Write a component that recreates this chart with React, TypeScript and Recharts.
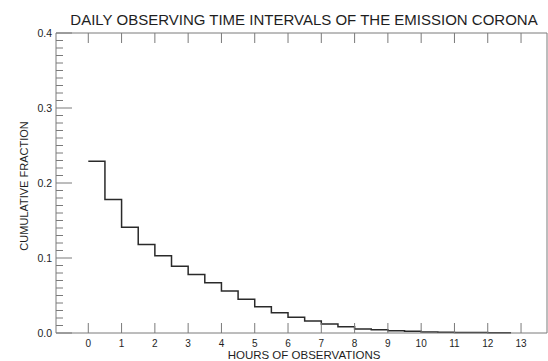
import React from "react";
import { LineChart, Line, XAxis, YAxis } from "recharts";

// hours of observation (start of each half-hour bin) and cumulative fraction
const hours = [0, 0.5, 1, 1.5, 2, 2.5, 3, 3.5, 4, 4.5, 5, 5.5, 6, 6.5, 7, 7.5, 8, 8.5, 9, 9.5, 10, 10.5, 11, 11.5, 12, 12.5, 12.7];
const fraction = [
  0.229, 0.178, 0.141, 0.118, 0.103, 0.089, 0.078, 0.067, 0.056, 0.045, 0.035, 0.027, 0.021, 0.016,
  0.012, 0.0085, 0.0055, 0.0042, 0.003, 0.0022, 0.0015, 0.0011, 0.0008, 0.0006, 0.0004, 0.0002, 0.0002,
];

const xTicks = [0, 1, 2, 3, 4, 5, 6, 7, 8, 9, 10, 11, 12, 13];
const yMajorTicks = [0, 0.1, 0.2, 0.3, 0.4];
const yTickLabels = ["0.0", "0.1", "0.2", "0.3", "0.4"];
const yMinorTicks = Array.from({ length: 41 }, (_, i) => i / 100);

const title = "DAILY OBSERVING TIME INTERVALS OF THE EMISSION CORONA";
const xLabel = "HOURS OF OBSERVATIONS";
const yLabel = "CUMULATIVE FRACTION";

const data = hours.map((h, i) => ({ h, v: fraction[i] }));

const FONT = "'Liberation Sans', Arial, sans-serif";
const TEXT = "#1e1e1e";
const AXIS = "#7a7a7a";
const X_DOMAIN = [-0.97, 13.78];

const isMajor = (v: number) => yMajorTicks.some((m) => Math.abs(m - v) < 1e-6);

function BottomTick(props: any) {
  const { x, y, payload } = props;
  return (
    <g>
      <line x1={x} y1={y} x2={x} y2={y - 10} stroke={AXIS} strokeWidth={1} />
      <text x={x} y={347} textAnchor="middle" fontSize={10} fontFamily={FONT} fill={TEXT}>
        {payload.value}
      </text>
    </g>
  );
}

function TopTick(props: any) {
  const { x, y } = props;
  return <line x1={x} y1={y} x2={x} y2={y + 10} stroke={AXIS} strokeWidth={1} />;
}

function LeftTick(props: any) {
  const { x, y, payload } = props;
  const major = isMajor(payload.value);
  const idx = yMajorTicks.findIndex((m) => Math.abs(m - payload.value) < 1e-6);
  return (
    <g>
      <line x1={x} y1={y} x2={x + (major ? 16 : 7)} y2={y} stroke={AXIS} strokeWidth={1} />
      {major && (
        <text x={x - 4} y={y + 4} textAnchor="end" fontSize={10.5} fontFamily={FONT} fill={TEXT}>
          {yTickLabels[idx]}
        </text>
      )}
    </g>
  );
}

function RightTick(props: any) {
  const { x, y, payload } = props;
  const major = isMajor(payload.value);
  return <line x1={x} y1={y} x2={x - (major ? 16 : 7)} y2={y} stroke={AXIS} strokeWidth={1} />;
}

export default function App() {
  return (
    <div style={{ position: "absolute", left: 0, top: 0, background: "#fff" }}>
      <LineChart width={548} height={361} data={data} margin={{ top: 32, right: 0, bottom: 27, left: 55 }}>
        <XAxis
          xAxisId="bottom"
          dataKey="h"
          type="number"
          domain={X_DOMAIN}
          ticks={xTicks}
          height={1}
          tickSize={0}
          tickMargin={0}
          tickLine={false}
          axisLine={{ stroke: AXIS }}
          tick={<BottomTick />}
          interval={0}
        />
        <XAxis
          xAxisId="top"
          orientation="top"
          dataKey="h"
          type="number"
          domain={X_DOMAIN}
          ticks={xTicks}
          height={1}
          tickSize={0}
          tickMargin={0}
          tickLine={false}
          axisLine={{ stroke: AXIS }}
          tick={<TopTick />}
          interval={0}
        />
        <YAxis
          yAxisId="left"
          type="number"
          domain={[0, 0.4]}
          ticks={yMinorTicks}
          width={1}
          tickSize={0}
          tickMargin={0}
          tickLine={false}
          axisLine={{ stroke: AXIS }}
          tick={<LeftTick />}
          interval={0}
        />
        <YAxis
          yAxisId="right"
          orientation="right"
          type="number"
          domain={[0, 0.4]}
          ticks={yMinorTicks}
          width={1}
          tickSize={0}
          tickMargin={0}
          tickLine={false}
          axisLine={{ stroke: AXIS }}
          tick={<RightTick />}
          interval={0}
        />
        <Line
          xAxisId="bottom"
          yAxisId="left"
          type="stepAfter"
          dataKey="v"
          stroke="#2a2a2a"
          strokeWidth={1.5}
          dot={false}
          activeDot={false}
          isAnimationActive={false}
        />
        <text x={304} y={25} textAnchor="middle" fontSize={15} fontFamily={FONT} fill={TEXT}>
          {title}
        </text>
        <text x={304} y={359} textAnchor="middle" fontSize={11.5} fontFamily={FONT} fill={TEXT}>
          {xLabel}
        </text>
        <text
          x={28}
          y={186}
          textAnchor="middle"
          fontSize={11}
          fontFamily={FONT}
          fill={TEXT}
          transform="rotate(-90 28 186)"
        >
          {yLabel}
        </text>
      </LineChart>
    </div>
  );
}
